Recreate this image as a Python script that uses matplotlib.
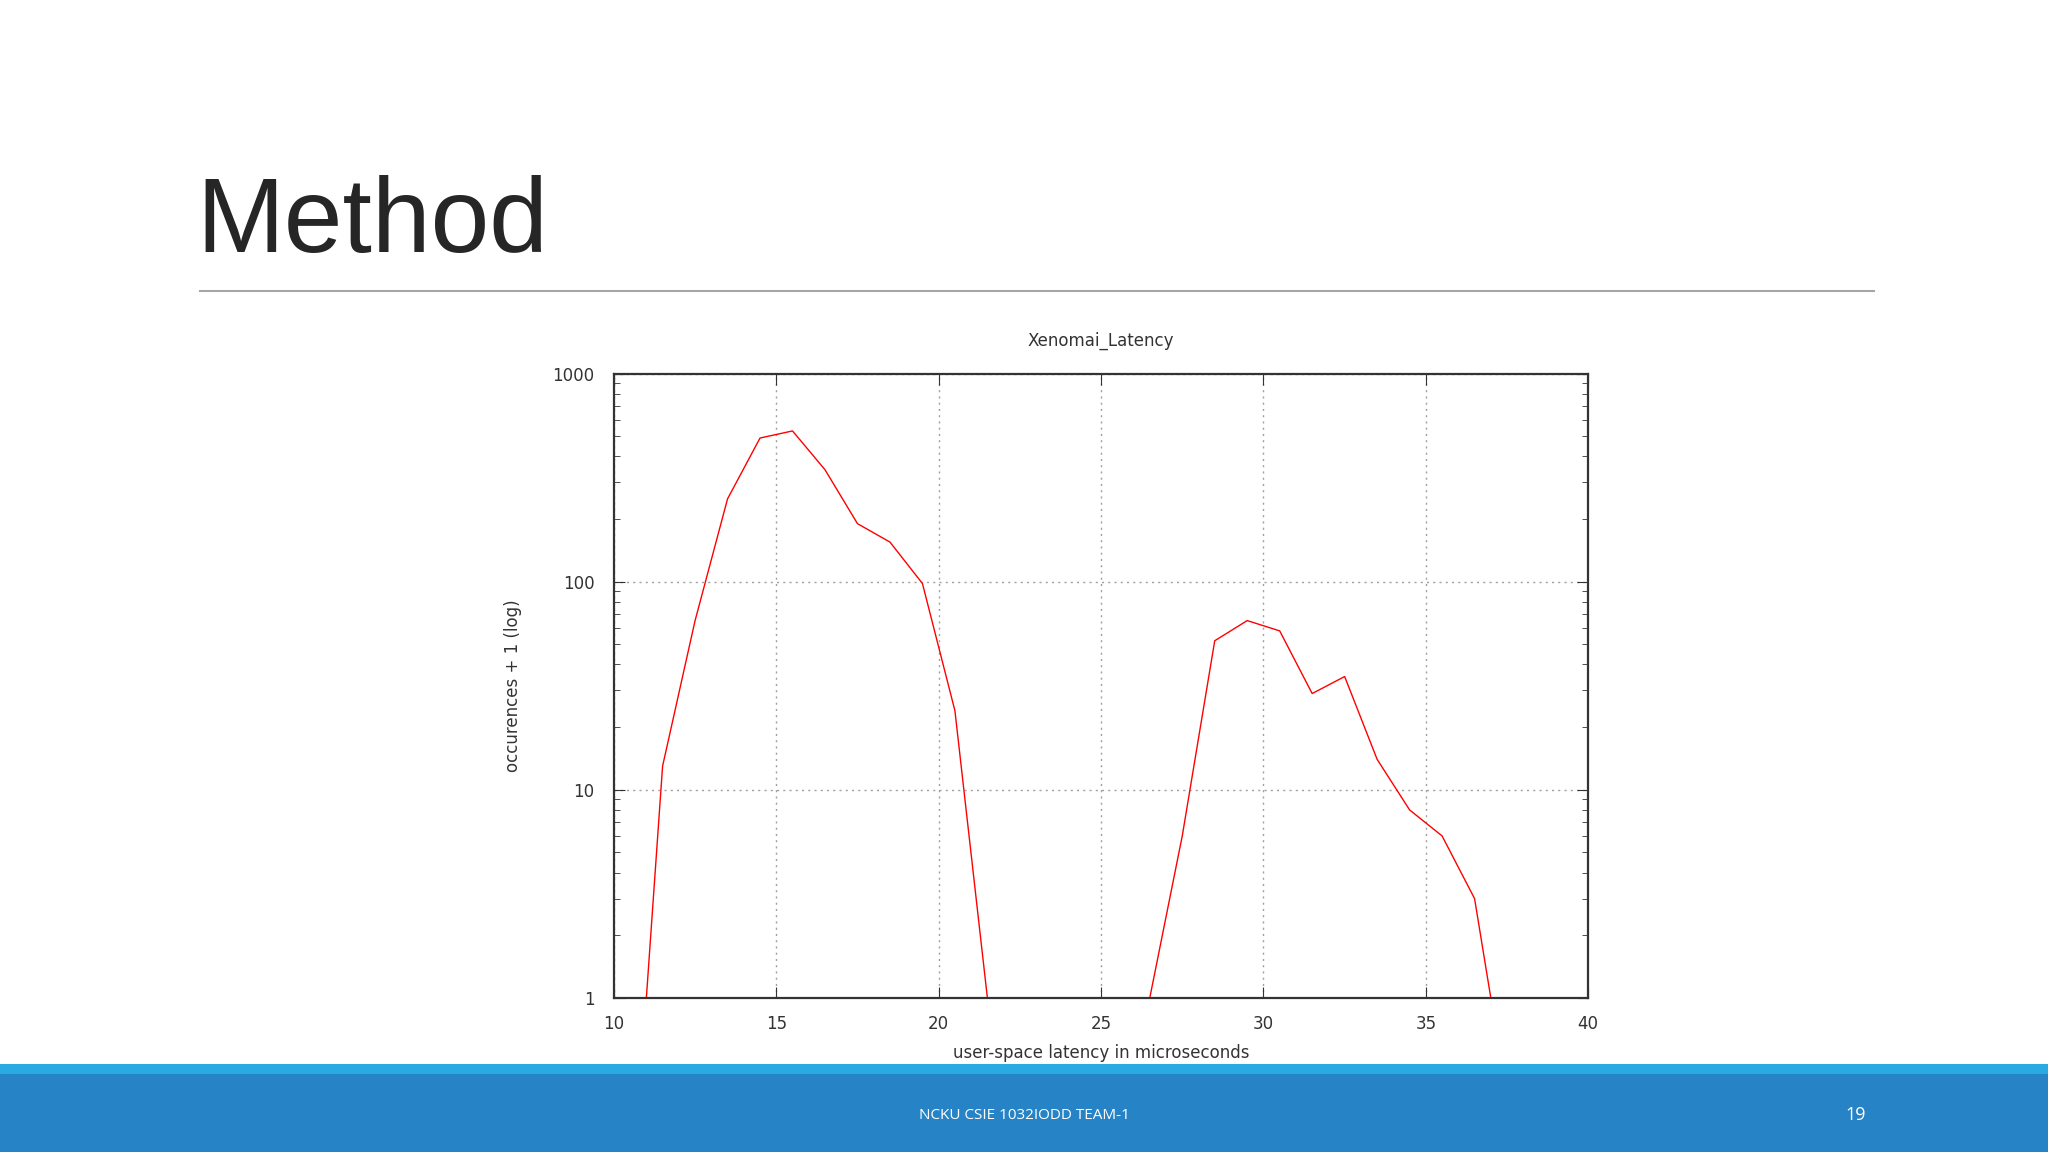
"""Slide recreation: Xenomai latency histogram on a log scale."""

import matplotlib
matplotlib.use("Agg")
import matplotlib.pyplot as plt
from matplotlib.ticker import FixedLocator, LogLocator, NullFormatter

# data
latency_us = [11, 11.5, 12.5, 13.5, 14.5, 15.5, 16.5, 17.5, 18.5, 19.5, 20.5, 21.5,
              22.5, 23.5, 24.5, 25.5, 26.5, 27.5, 28.5, 29.5, 30.5, 31.5, 32.5,
              33.5, 34.5, 35.5, 36.5, 37]
occurrences = [1, 13, 65, 250, 490, 530, 345, 190, 155, 98, 24, 1,
               1, 1, 1, 1, 1, 6, 52, 65, 58, 29, 35,
               14, 8, 6, 3, 1]
x_ticks = [10, 15, 20, 25, 30, 35, 40]
y_ticks = [1, 10, 100, 1000]

W, H = 1568, 882
fig = plt.figure(figsize=(20.48, 11.52), dpi=100)

# slide heading and rule
fig.text(150 / W, 1 - 172 / H, "Method", fontsize=76, color="#262626",
         family="Liberation Sans", va="center", ha="left")
fig.add_artist(plt.Line2D([153 / W, 1435 / W], [1 - 223 / H] * 2,
                          color="#a6a6a6", lw=1.5))

# footer bars
fig.add_artist(plt.Rectangle((0, 0), 1, 1 - 822 / H, color="#2683c6", lw=0))
fig.add_artist(plt.Rectangle((0, 1 - 822 / H), 1, 7 / H, color="#29abe2", lw=0))
fig.text(784 / W, 1 - 854 / H, "NCKU CSIE 1032IODD TEAM-1", color="white",
         fontsize=11, ha="center", va="center", family="Open Sans")
fig.text(1421 / W, 1 - 854 / H, "19", color="white", fontsize=13,
         ha="center", va="center", family="Open Sans")

# chart
ax = fig.add_axes([470 / W, 1 - 764 / H, (1216 - 470) / W, (764 - 286) / H])
ax.plot(latency_us, occurrences, color="#ff0000", lw=1, zorder=2)
ax.set_yscale("log")
ax.set_xlim(10, 40)
ax.set_ylim(1, 1000)
ax.xaxis.set_major_locator(FixedLocator(x_ticks))
ax.yaxis.set_major_locator(FixedLocator(y_ticks))
ax.yaxis.set_minor_locator(LogLocator(base=10, subs=range(2, 10)))
ax.yaxis.set_minor_formatter(NullFormatter())
ax.set_xticklabels([str(t) for t in x_ticks])
ax.set_yticklabels([str(t) for t in y_ticks])
ax.grid(True, which="major", color="#a0a0a0", linestyle=(0, (1.5, 3)), lw=1)
ax.tick_params(which="both", direction="in", top=True, right=True,
               labelsize=12, colors="#333333")
ax.tick_params(which="major", length=8)
ax.tick_params(which="minor", length=4)
ax.tick_params(axis="x", pad=12)
ax.tick_params(axis="y", pad=14)
for s in ax.spines.values():
    s.set_color("#333333")
    s.set_linewidth(1.6)
    s.set_zorder(3)
ax.set_title("Xenomai_Latency", fontsize=12, color="#333333", pad=20)
ax.set_xlabel("user-space latency in microseconds", fontsize=12,
              color="#333333", labelpad=8)
ax.set_ylabel("occurences + 1 (log)", fontsize=12, color="#333333", labelpad=22)

fig.savefig("out.png", dpi=100)
